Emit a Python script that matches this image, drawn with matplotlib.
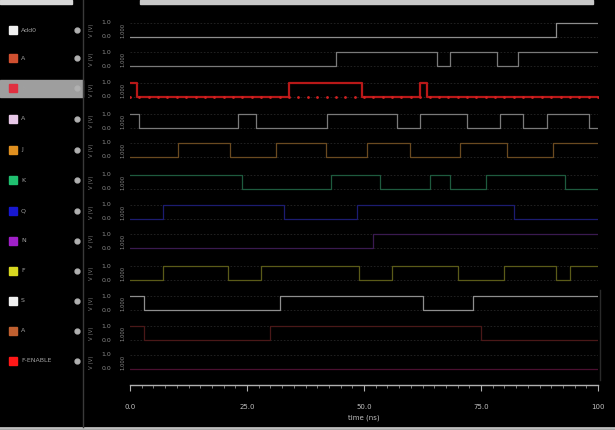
import matplotlib
matplotlib.use("Agg")
import matplotlib.pyplot as plt
from matplotlib.patches import Rectangle
from matplotlib.ticker import MultipleLocator, FixedLocator

W, H = 615, 430

# ---------------- data ----------------
signal_names = ["Add0", "A", "B", "A", "J", "K", "Q", "N", "F", "S", "A", "F-ENABLE"]
legend_colors = ["#f0f0f0", "#d05030", "#e03040", "#e8c8e8", "#e09020", "#20c070",
                 "#1818d0", "#a020c8", "#d8d820", "#f0f0f0", "#c06030", "#ff1818"]
trace_colors = ["#8e8e8e", "#7a7a7a", "#b81818", "#7a7a7a", "#6a4a20", "#1e5a3e",
                "#1c1c70", "#3a1a50", "#5a5a18", "#8e8e8e", "#4a1818", "#4a1030"]

# transition times (ns) and logic level after each transition
times = [
    [0, 91],
    [0, 44, 65.6, 68.4, 78.4, 83],
    [0, 1.5, 34, 49.5, 62, 63.5],
    [0, 2, 23, 27, 42, 57, 62, 72, 79, 84, 89, 98],
    [0, 10.3, 21.4, 31.2, 41.9, 50.6, 59.8, 70.5, 80.6, 90.4],
    [0, 24, 43, 53.4, 64, 68.4, 76, 93],
    [0, 7, 33, 48.5, 82],
    [0, 52],
    [0, 7, 21, 28, 49, 56, 70, 80, 91, 94],
    [0, 3, 32, 62.6, 73.3],
    [0, 3, 30, 75],
    [0],
]
levels = [
    [0, 1],
    [0, 1, 0, 1, 0, 1],
    [1, 0, 1, 0, 1, 0],
    [1, 0, 1, 0, 1, 0, 1, 0, 1, 0, 1, 0],
    [0, 1, 0, 1, 0, 1, 0, 1, 0, 1],
    [1, 0, 1, 0, 1, 0, 1, 0],
    [0, 1, 0, 1, 0],
    [0, 1],
    [0, 1, 0, 1, 0, 1, 0, 1, 0, 1],
    [1, 0, 1, 0, 1],
    [1, 0, 1, 0],
    [0],
]
x_ticks = [0, 25, 50, 75, 100]
x_tick_labels = ["0.0", "25.0", "50.0", "75.0", "100"]
x_label = "time (ns)"

# ---------------- layout (pixels) ----------------
row_low = [37, 66, 97, 128, 157, 189, 219, 248, 280, 310, 340, 369]
row_amp = 14
legend_y = [30, 58, 88, 119, 150, 180, 211, 241, 271, 301, 331, 361]

def fx(x):
    return x / W

def fy(y):
    return 1 - y / H

fig = plt.figure(figsize=(W / 100, H / 100), dpi=100, facecolor="black")

# background / frame elements
bg = fig.add_axes([0, 0, 1, 1])
bg.set_xlim(0, W)
bg.set_ylim(H, 0)
bg.axis("off")
bg.set_facecolor("black")
bg.add_patch(Rectangle((0, 0), 72, 4, color="#d8d8d8"))
bg.add_patch(Rectangle((140, 0), 453, 4, color="#c8c8c8"))
bg.plot([0, W], [428, 428], color="#bdbdbd", lw=2)
bg.plot([83, 83], [0, 427], color="#3a3a3a", lw=1)
bg.plot([600, 600], [290, 380], color="#2a2a2a", lw=1)
# highlighted row in the legend
bg.add_patch(Rectangle((0, 80), 83, 17, color="#9e9e9e"))

for i, name in enumerate(signal_names):
    y = legend_y[i]
    bg.add_patch(Rectangle((9, y - 4), 8, 8, color=legend_colors[i]))
    bg.text(21, y, name, color="#a0a0a0", fontsize=4.5, va="center", ha="left")
    bg.plot([77], [y], marker="o", ms=3.5, color="#b0b0b0")
    # y axis texts per row
    mid = row_low[i] - row_amp / 2
    bg.text(92, mid, "V (V)", color="#7a7a7a", fontsize=4, rotation=90,
            va="center", ha="center")
    bg.text(106, row_low[i] - row_amp, "1.0", color="#8a8a8a", fontsize=4.5,
            va="center", ha="center")
    bg.text(106, row_low[i], "0.0", color="#8a8a8a", fontsize=4.5,
            va="center", ha="center")
    bg.text(123, mid, "1.000", color="#8a8a8a", fontsize=3.8, rotation=90,
            va="center", ha="center")

# main waveform axes (y in pixel rows, inverted)
ax = fig.add_axes([fx(130), fy(385), fx(598) - fx(130), fy(15) - fy(385)])
ax.set_facecolor("black")
ax.set_xlim(0, 100)
ax.set_ylim(385, 15)

for i in range(len(signal_names)):
    lo = row_low[i]
    hi = lo - row_amp
    ax.plot([0, 100], [hi, hi], color="#262626", lw=0.6, ls=(0, (2, 2)))
    ax.plot([0, 100], [lo, lo], color="#262626", lw=0.6, ls=(0, (2, 2)))
    t = list(times[i]) + [100]
    v = list(levels[i]) + [levels[i][-1]]
    yy = [lo - val * row_amp for val in v]
    if i == 2:
        ax.step(t, yy, where="post", color=trace_colors[i], lw=1.6)
        ax.plot([tt for tt in range(0, 101, 2)], [lo] * 51, ls="none",
                marker=".", ms=2, color="#d02020")
    else:
        ax.step(t, yy, where="post", color=trace_colors[i], lw=0.9)

for s in ["top", "right", "left"]:
    ax.spines[s].set_visible(False)
ax.spines["bottom"].set_color("#b0b0b0")
ax.spines["bottom"].set_linewidth(1)
ax.set_yticks([])
ax.xaxis.set_major_locator(FixedLocator(x_ticks))
ax.xaxis.set_minor_locator(MultipleLocator(2.5))
ax.set_xticklabels(x_tick_labels)
ax.tick_params(axis="x", which="major", colors="#b0b0b0", labelcolor="#c0c0c0",
               labelsize=5, length=4, width=0.8, pad=10)
ax.tick_params(axis="x", which="minor", colors="#909090", length=2.5, width=0.6)
ax.set_xlabel(x_label, color="#c0c0c0", fontsize=5, labelpad=3)

fig.savefig("out.png", dpi=100, facecolor="black")
